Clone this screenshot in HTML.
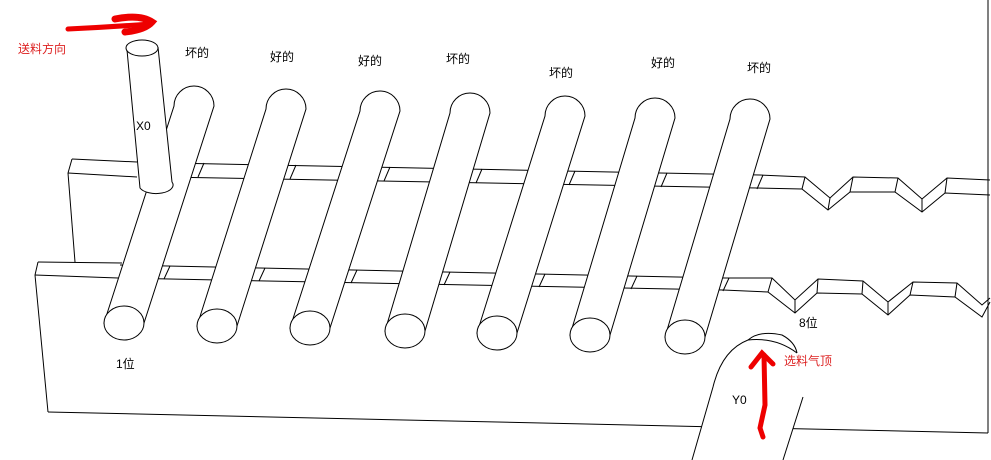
<!DOCTYPE html>
<html><head><meta charset="utf-8"><style>
html,body{margin:0;padding:0;background:#fff;width:991px;height:460px;overflow:hidden}
svg{display:block}
text{font-family:"Liberation Sans","Noto Sans CJK SC",sans-serif;font-size:12px}
</style></head><body>
<svg width="991" height="460" viewBox="0 0 991 460" xmlns="http://www.w3.org/2000/svg">
<g fill="none" stroke="#000" stroke-width="1">
<polyline points="72,159 137,162"/>
<polyline points="68,173 137,177"/>
<line x1="72" y1="159" x2="68" y2="173"/>
<line x1="68" y1="173" x2="75" y2="262"/>
<polyline points="38,262 122,263"/>
<polyline points="35,275 118,278"/>
<line x1="38" y1="262" x2="35" y2="275"/>
<line x1="35" y1="275" x2="48" y2="412"/>
<line x1="48" y1="412" x2="988" y2="433"/>
<line x1="988" y1="0" x2="988" y2="433"/>
<polyline points="170,163 760,175 805,177 830,198 853,177 898,178 922,199 947,178 990,180"/>
<polyline points="165,177 757,188 802,189 828,210 850,192 895,192 922,212 945,193 990,195"/>
<line x1="805" y1="177" x2="802" y2="189"/><line x1="830" y1="198" x2="828" y2="210"/>
<line x1="853" y1="177" x2="850" y2="192"/><line x1="898" y1="178" x2="895" y2="192"/>
<line x1="922" y1="199" x2="922" y2="212"/><line x1="947" y1="178" x2="945" y2="193"/>
<polyline points="120,265 725,278 772,278 795,300 818,279 863,281 888,302 913,282 957,283 982,305 990,298"/>
<polyline points="118,278 723,290 768,292 795,313 817,293 862,294 888,315 910,295 955,297 982,317 990,302"/>
<line x1="772" y1="278" x2="768" y2="292"/><line x1="795" y1="300" x2="795" y2="313"/>
<line x1="818" y1="279" x2="817" y2="293"/><line x1="863" y1="281" x2="862" y2="294"/>
<line x1="888" y1="302" x2="888" y2="315"/><line x1="913" y1="282" x2="910" y2="295"/>
<line x1="957" y1="283" x2="955" y2="297"/>
</g>
<g fill="#fff" stroke="#000" stroke-width="1">
<path d="M104,323 L174,106 A20,20 0 0 1 214,106 L144,323 Z"/><ellipse cx="124" cy="323" rx="20" ry="17"/>
<path d="M197,326 L266,109 A20,20 0 0 1 306,109 L237,326 Z"/><ellipse cx="217" cy="326" rx="20" ry="17"/>
<path d="M290,328 L360,111 A20,20 0 0 1 400,111 L330,328 Z"/><ellipse cx="310" cy="328" rx="20" ry="17"/>
<path d="M385,331 L450,113 A20,20 0 0 1 490,113 L425,331 Z"/><ellipse cx="405" cy="331" rx="20" ry="17"/>
<path d="M477,333 L545,116 A20,20 0 0 1 585,116 L517,333 Z"/><ellipse cx="497" cy="333" rx="20" ry="17"/>
<path d="M570,335 L635,118 A20,20 0 0 1 675,118 L610,335 Z"/><ellipse cx="590" cy="335" rx="20" ry="17"/>
<path d="M665,337 L730,119 A20,20 0 0 1 770,119 L705,337 Z"/><ellipse cx="685" cy="337" rx="20" ry="17"/>
<path d="M127,50 L140,188 A16,8 0 0 0 172,182 L158,47"/>
<ellipse cx="142" cy="48" rx="16" ry="8"/>
</g>
<!-- Y0 cylinder -->
<path d="M692,460 L713,387 Q724,348 748,340 Q775,338 797,353 L803,397 L783,460 Z" fill="#fff" stroke="none"/>
<g fill="none" stroke="#000" stroke-width="1">
<path d="M692,460 L713,387 Q722,350 748,340 Q776,337 797,353"/>
<path d="M748,340 Q760,330 782,335 Q795,342 797,353"/>
<line x1="803" y1="397" x2="783" y2="460"/>
<line x1="204" y1="163" x2="198" y2="177"/><line x1="296" y1="165" x2="290" y2="179"/>
<line x1="390" y1="167" x2="384" y2="181"/><line x1="482" y1="169" x2="476" y2="183"/>
<line x1="575" y1="171" x2="569" y2="185"/><line x1="667" y1="173" x2="661" y2="187"/>
<line x1="763" y1="175" x2="757" y2="189"/>
<line x1="170" y1="266" x2="164" y2="279"/><line x1="265" y1="268" x2="259" y2="281"/>
<line x1="357" y1="270" x2="351" y2="283"/><line x1="450" y1="272" x2="444" y2="285"/>
<line x1="545" y1="274" x2="539" y2="287"/><line x1="637" y1="276" x2="631" y2="289"/>
<line x1="729" y1="278" x2="723" y2="291"/>
</g>
<g fill="none" stroke="#e00" stroke-linecap="round">
<path d="M68,29 Q110,27 150,24" stroke-width="5"/>
<path d="M115,19 Q140,14 152,22 Q145,30 125,32" stroke-width="7"/>
<path d="M763,437 L760,428 L765,405 L764,355" stroke-width="5"/>
<path d="M751,367 L762,353 L773,364" stroke-width="5"/>
</g>
<g fill="#000">
<text x="185" y="57">坏的</text><text x="270" y="61">好的</text><text x="358" y="65">好的</text>
<text x="446" y="63">坏的</text><text x="549" y="77">坏的</text><text x="651" y="67">好的</text>
<text x="747" y="72">坏的</text>
<text x="136" y="130" font-size="11">X0</text>
<text x="116" y="368">1位</text>
<text x="799" y="327">8位</text>
<text x="732" y="404" font-size="11">Y0</text>
</g>
<g fill="#d22">
<text x="18" y="53">送料方向</text>
<text x="784" y="365">选料气顶</text>
</g>
</svg>
</body></html>
